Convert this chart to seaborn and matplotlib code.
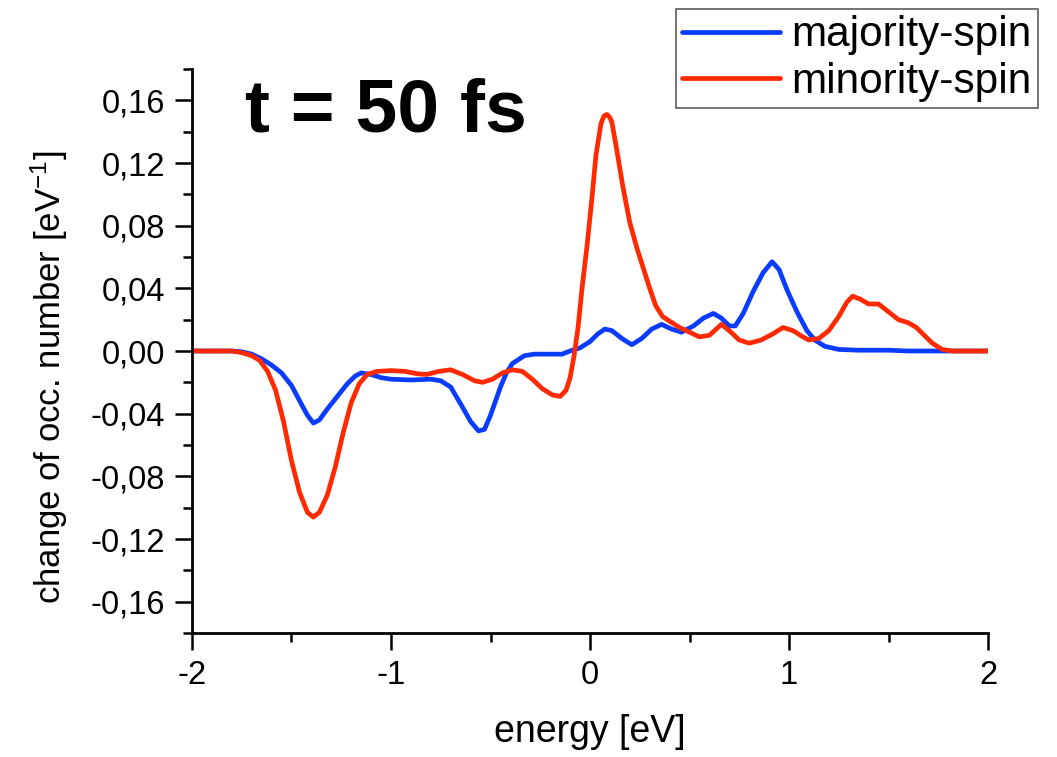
import numpy as np
import pandas as pd
import matplotlib
matplotlib.use("Agg")
import matplotlib.pyplot as plt
from matplotlib.ticker import FixedLocator, MultipleLocator, FuncFormatter
import seaborn as sns

# ---- data ----
maj_E = [-2.0, -1.9, -1.8, -1.75, -1.7, -1.65, -1.6, -1.55, -1.5, -1.45, -1.42, -1.39, -1.36, -1.32,
         -1.27, -1.22, -1.18, -1.15, -1.1, -1.05, -1.0, -0.9, -0.8, -0.75, -0.7, -0.64, -0.6, -0.56,
         -0.53, -0.5, -0.45, -0.42, -0.39, -0.33, -0.28, -0.2, -0.14, -0.1, -0.05, 0.0, 0.04, 0.075,
         0.11, 0.16, 0.21, 0.26, 0.31, 0.36, 0.41, 0.46, 0.52, 0.57, 0.62, 0.66, 0.7, 0.73, 0.77,
         0.82, 0.87, 0.915, 0.95, 0.99, 1.04, 1.09, 1.13, 1.18, 1.25, 1.35, 1.5, 1.6, 2.0]
maj_v = [0.0, 0.0, 0.0, -0.0005, -0.002, -0.005, -0.009, -0.014, -0.022, -0.034, -0.041, -0.046, -0.044, -0.037,
         -0.029, -0.021, -0.016, -0.014, -0.015, -0.017, -0.018, -0.0185, -0.018, -0.019, -0.023, -0.036, -0.045, -0.051,
         -0.050, -0.041, -0.023, -0.014, -0.008, -0.003, -0.002, -0.002, -0.002, 0.0, 0.002, 0.006, 0.011, 0.014,
         0.013, 0.008, 0.004, 0.008, 0.014, 0.017, 0.014, 0.012, 0.016, 0.021, 0.024, 0.021, 0.016, 0.016, 0.024,
         0.038, 0.050, 0.057, 0.052, 0.039, 0.025, 0.013, 0.007, 0.003, 0.001, 0.0005, 0.0005, 0.0, 0.0]

min_E = [-2.0, -1.8, -1.75, -1.7, -1.66, -1.62, -1.58, -1.54, -1.5, -1.46, -1.42, -1.39, -1.36, -1.32,
         -1.28, -1.24, -1.2, -1.16, -1.12, -1.07, -1.0, -0.93, -0.87, -0.82, -0.76, -0.7, -0.64, -0.58,
         -0.54, -0.49, -0.44, -0.39, -0.34, -0.29, -0.24, -0.19, -0.15, -0.12, -0.1, -0.08, -0.06, -0.04,
         -0.015, 0.01, 0.03, 0.055, 0.07, 0.085, 0.1, 0.11, 0.135, 0.165, 0.2, 0.235, 0.265, 0.3, 0.33, 0.365, 0.4,
         0.45, 0.5, 0.55, 0.6, 0.66, 0.7, 0.75, 0.8, 0.86, 0.92, 0.97, 1.02, 1.07, 1.1, 1.15, 1.2, 1.25,
         1.29, 1.32, 1.36, 1.4, 1.45, 1.5, 1.55, 1.6, 1.64, 1.68, 1.72, 1.77, 1.82, 2.0]
min_v = [0.0, 0.0, -0.001, -0.003, -0.006, -0.013, -0.025, -0.045, -0.070, -0.090, -0.103, -0.106, -0.103, -0.092,
         -0.074, -0.052, -0.033, -0.021, -0.015, -0.013, -0.0125, -0.013, -0.0145, -0.015, -0.013, -0.012, -0.015, -0.019,
         -0.020, -0.018, -0.014, -0.012, -0.013, -0.018, -0.024, -0.028, -0.029, -0.025, -0.017, -0.003, 0.015, 0.040,
         0.067, 0.098, 0.125, 0.145, 0.150, 0.151, 0.149, 0.146, 0.128, 0.105, 0.082, 0.066, 0.054, 0.040, 0.029, 0.022, 0.019,
         0.015, 0.012, 0.009, 0.010, 0.017, 0.013, 0.007, 0.005, 0.007, 0.011, 0.015, 0.013, 0.009, 0.007, 0.008, 0.013, 0.022,
         0.031, 0.035, 0.033, 0.030, 0.030, 0.025, 0.020, 0.018, 0.015, 0.010, 0.005, 0.001, 0.0, 0.0]

series_names = ["majority-spin", "minority-spin"]
series_colors = ["#0a3cff", "#ff2a00"]
x_ticks = [-2, -1, 0, 1, 2]
y_ticks = [-0.16, -0.12, -0.08, -0.04, 0.0, 0.04, 0.08, 0.12, 0.16]
title_text = "t = 50 fs"
x_label = "energy [eV]"
y_label = "change of occ. number [eV$^{-1}$]"

df = pd.concat([
    pd.DataFrame({"E": maj_E, "v": maj_v, "spin": series_names[0]}),
    pd.DataFrame({"E": min_E, "v": min_v, "spin": series_names[1]}),
], ignore_index=True)

sns.set_theme(style="ticks")
plt.rcParams["font.family"] = ["Liberation Sans", "DejaVu Sans"]
plt.rcParams["mathtext.fontset"] = "custom"
plt.rcParams["mathtext.rm"] = "Liberation Sans"
plt.rcParams["mathtext.it"] = "Liberation Sans"
plt.rcParams["mathtext.bf"] = "Liberation Sans:bold"
plt.rcParams["mathtext.default"] = "regular"

fig = plt.figure(figsize=(10.57, 7.57), dpi=100)
ax = fig.add_axes([192/1057, 1 - 633/757, (988-192)/1057, (633-69)/757])

sns.lineplot(data=df, x="E", y="v", hue="spin", palette=dict(zip(series_names, series_colors)),
             linewidth=3.4, ax=ax, sort=False, legend=True)
for ln in ax.get_lines():
    ln.set_solid_joinstyle("round")
    ln.set_solid_capstyle("round")

ax.set_xlim(-2, 2)
ax.set_ylim(-0.18, 0.18)
ax.xaxis.set_major_locator(FixedLocator(x_ticks))
ax.xaxis.set_minor_locator(MultipleLocator(0.5))
ax.yaxis.set_major_locator(FixedLocator(y_ticks))
ax.yaxis.set_minor_locator(MultipleLocator(0.02))
ax.xaxis.set_major_formatter(FuncFormatter(lambda v, p: f"{v:g}"))
ax.yaxis.set_major_formatter(FuncFormatter(lambda v, p: f"{v:.2f}".replace(".", ",") if abs(v) > 1e-9 else "0,00"))

for s in ["top", "right"]:
    ax.spines[s].set_visible(False)
for s in ["left", "bottom"]:
    ax.spines[s].set_linewidth(2.0)
    ax.spines[s].set_color("black")

ax.tick_params(axis="both", which="major", direction="out", length=12.5, width=1.8, color="black",
               labelsize=23.5, pad=7, labelcolor="black")
ax.tick_params(axis="both", which="minor", direction="out", length=6.5, width=1.8, color="black")

ax.set_xlabel(x_label, fontsize=27, color="black")
ax.set_ylabel(y_label, fontsize=25, color="black")
ax.xaxis.set_label_coords(0.5, -0.143)
ax.yaxis.set_label_coords(-0.153, 0.454)

fig.text(245/1057, 1 - 132/757, title_text, fontsize=54, fontweight="bold", va="baseline", ha="left",
         color="black")

handles, labels = ax.get_legend_handles_labels()
leg = ax.legend(handles, labels, loc="upper right", bbox_to_anchor=(1038/1057, 1 - 9/757),
                bbox_transform=fig.transFigure, frameon=True, fancybox=False,
                prop={"size": 30.5},
                borderaxespad=0, borderpad=0.15, labelspacing=0.15, handlelength=2.3, handletextpad=0.28)
leg.get_frame().set_edgecolor("#333333")
leg.get_frame().set_linewidth(1.2)
for l in leg.get_lines():
    l.set_linewidth(3.4)
for t in leg.get_texts():
    t.set_color("black")

fig.savefig("out.png", dpi=100)
